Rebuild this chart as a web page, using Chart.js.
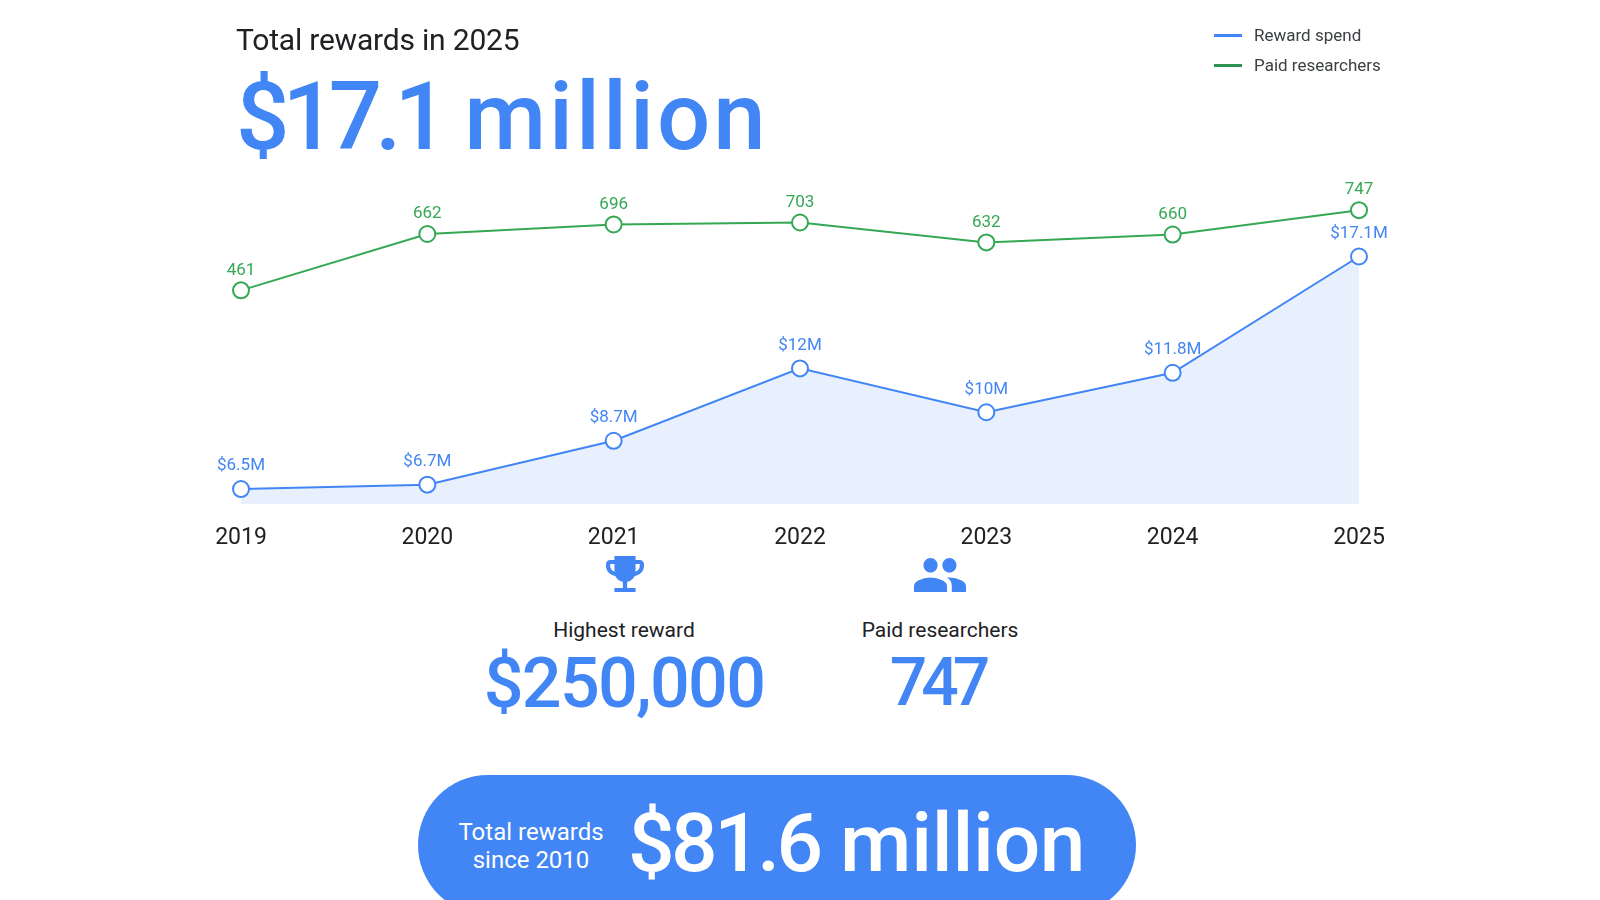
<!DOCTYPE html>
<html>
<head>
<meta charset="utf-8">
<title>Total rewards in 2025</title>
<script src="https://cdn.jsdelivr.net/npm/chart.js@4"></script>
<style>
    html, body { margin: 0; padding: 0; background: #fff; }
    body { width: 1600px; height: 900px; overflow: hidden; position: relative; font-family: Roboto, sans-serif; }
    #chart-wrap { position: absolute; left: 0; top: 0; width: 1600px; height: 576px; }
    .txt { position: absolute; white-space: nowrap; line-height: 1; }
    .center { transform: translateX(-50%); text-align: center; }
    .blue { color: #4285f4; font-weight: 500; }
    .dark { color: #202124; }
    #headline-label { left: 236px; top: 25px; font-size: 30px; letter-spacing: -0.2px; }
    #headline { left: 236px; top: 70px; font-size: 94px; }
    #headline .num { letter-spacing: -7px; }
    #headline .unit { letter-spacing: 3px; }
    .legend-line { position: absolute; left: 1214px; width: 28px; height: 3px; }
    .legend-text { left: 1254px; font-size: 17px; color: #3c4043; }
    .stat-label { top: 620px; font-size: 21px; }
    .stat-value { top: 648px; font-size: 70px; font-weight: 500; }
    .icon { position: absolute; fill: #4285f4; }
    #pill { position: absolute; left: 418px; top: 775px; width: 718px; height: 140px; border-radius: 70px; background: #4285f4; }
    #pill-label { left: 531px; top: 818px; font-size: 24px; line-height: 28px; color: #fff; }
    #pill-value { left: 628px; top: 802px; font-size: 82px; color: #fff; font-weight: 500; }
    #pill-value .num { letter-spacing: -3.5px; }
    #pill-value .unit { letter-spacing: -0.3px; }
</style>
</head>
<body>
<div id="chart-wrap"><canvas id="rewardsChart"></canvas></div>

<div class="txt dark" id="headline-label">Total rewards in 2025</div>
<div class="txt blue" id="headline"><span class="num">$17.1</span> <span class="unit">million</span></div>

<div class="legend-line" style="top:34px;background:#4285f4"></div>
<div class="txt legend-text" style="top:27px">Reward spend</div>
<div class="legend-line" style="top:64px;background:#2d9150"></div>
<div class="txt legend-text" style="top:57px">Paid researchers</div>

<svg class="icon" style="left:606px;top:556px" width="38" height="36" viewBox="3 3 18 18" preserveAspectRatio="none">
    <path d="M19 5h-2V3H7v2H5c-1.1 0-2 .9-2 2v1c0 2.55 1.92 4.63 4.39 4.94.63 1.5 1.98 2.63 3.61 2.96V19H7v2h10v-2h-4v-3.1c1.63-.33 2.98-1.46 3.61-2.96C19.08 12.63 21 10.55 21 8V7c0-1.1-.9-2-2-2zM5 8V7h2v3.82C5.84 10.4 5 9.3 5 8zm14 0c0 1.3-.84 2.4-2 2.82V7h2v1z"/>
</svg>
<svg class="icon" style="left:914px;top:558px" width="52" height="34" viewBox="1 5 22 14" preserveAspectRatio="none">
    <path d="M16 11c1.66 0 2.99-1.34 2.99-3S17.66 5 16 5c-1.66 0-3 1.34-3 3s1.34 3 3 3zm-8 0c1.66 0 2.99-1.34 2.99-3S9.66 5 8 5C6.34 5 5 6.34 5 8s1.34 3 3 3zm0 2c-2.33 0-7 1.17-7 3.5V19h14v-2.5c0-2.33-4.67-3.5-7-3.5zm8 0c-.29 0-.62.02-.97.05 1.16.84 1.97 1.97 1.97 3.45V19h6v-2.5c0-2.33-4.67-3.5-7-3.5z"/>
</svg>

<div class="txt dark center stat-label" style="left:624px">Highest reward</div>
<div class="txt blue center stat-value" style="left:624px;letter-spacing:-1.7px">$250,000</div>
<div class="txt dark center stat-label" style="left:940px">Paid researchers</div>
<div class="txt blue center stat-value" style="left:937px;top:650px;font-size:66px;letter-spacing:-6px">747</div>

<div id="pill"></div>
<div class="txt center" id="pill-label">Total rewards<br>since 2010</div>
<div class="txt" id="pill-value"><span class="num">$81.6</span> <span class="unit">million</span></div>

<script>
// Chart data
const years = ['2019', '2020', '2021', '2022', '2023', '2024', '2025'];
const rewardSpend = [6.5, 6.7, 8.7, 12, 10, 11.8, 17.1];
const paidResearchers = [461, 662, 696, 703, 632, 660, 747];

const BLUE = '#4285f4';
const GREEN = '#34a853';

// Draws the number above each point
const pointLabels = {
    id: 'pointLabels',
    afterDatasetsDraw(chart) {
        const ctx = chart.ctx;
        chart.data.datasets.forEach((ds, i) => {
            chart.getDatasetMeta(i).data.forEach((pt, j) => {
                ctx.save();
                ctx.font = '400 17px Roboto, sans-serif';
                ctx.fillStyle = ds.borderColor;
                ctx.textAlign = 'center';
                ctx.textBaseline = 'middle';
                ctx.fillText(ds.labelFormat(ds.data[j]), pt.x, pt.y - ds.labelGap);
                ctx.restore();
            });
        });
    }
};

new Chart(document.getElementById('rewardsChart'), {
    type: 'line',
    data: {
        labels: years,
        datasets: [{
            label: 'Reward spend',
            data: rewardSpend,
            yAxisID: 'ySpend',
            borderColor: BLUE,
            backgroundColor: '#e8f0fe',
            pointBackgroundColor: '#fff',
            fill: 'start',
            labelFormat: v => '$' + v + 'M',
            labelGap: 23
        }, {
            label: 'Paid researchers',
            data: paidResearchers,
            yAxisID: 'yPaid',
            borderColor: GREEN,
            pointBackgroundColor: '#fff',
            fill: false,
            labelFormat: v => String(v),
            labelGap: 20
        }]
    },
    options: {
        responsive: true,
        maintainAspectRatio: false,
        animation: false,
        layout: { padding: { left: 241, right: 241, top: 149, bottom: 12 } },
        elements: {
            line: { borderWidth: 2, tension: 0 },
            point: { radius: 8, borderWidth: 2 }
        },
        plugins: {
            legend: { display: false },
            tooltip: { enabled: false }
        },
        scales: {
            x: {
                offset: false,
                grid: { display: false },
                border: { display: false },
                ticks: {
                    color: '#202124',
                    font: { family: 'Roboto, sans-serif', size: 23 },
                    padding: 12,
                    maxRotation: 0,
                    autoSkip: false
                }
            },
            ySpend: { display: false, min: 5.8, max: 22 },
            yPaid: { display: false, min: -302, max: 965 }
        }
    },
    plugins: [pointLabels]
});
</script>
</body>
</html>
